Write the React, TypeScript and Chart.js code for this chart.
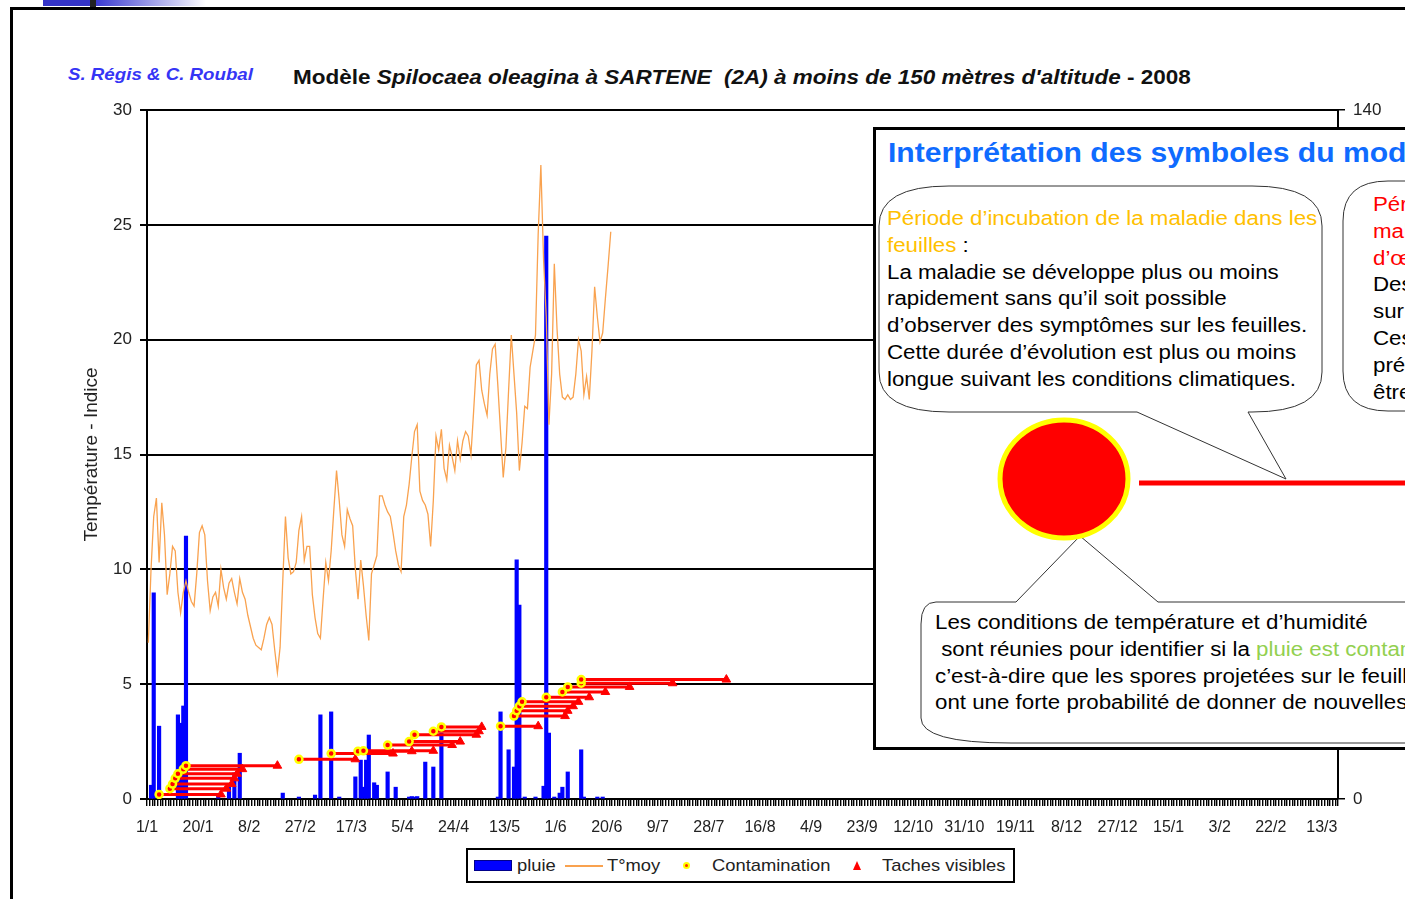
import React, { useEffect, useRef } from 'react';
import { Chart, registerables } from 'chart.js';

Chart.register(...registerables);

const FONT = "'Liberation Sans', Arial, sans-serif";

// ---- data ----
const N_DAYS = 443;
const TICK_EVERY = 19;
const tickLabels = ['1/1', '20/1', '8/2', '27/2', '17/3', '5/4', '24/4', '13/5', '1/6', '20/6', '9/7', '28/7', '16/8', '4/9', '23/9', '12/10', '31/10', '19/11', '8/12', '27/12', '15/1', '3/2', '22/2', '13/3'];

// mean temperature, one value per day from 1/1
const tmoy = [
  6.8, 10.0, 12.3, 13.1, 10.3, 12.9, 11.5, 8.9, 9.8, 11.0,
  10.8, 9.0, 8.1, 9.0, 9.5, 9.0, 8.6, 8.4, 9.8, 11.6,
  11.9, 11.5, 9.5, 8.2, 8.8, 9.0, 8.4, 10.0, 9.2, 8.7,
  9.4, 9.6, 9.0, 8.5, 9.6, 9.0, 8.7, 8.0, 7.5, 7.0,
  6.7, 6.6, 6.5, 7.0, 7.6, 7.9, 7.6, 6.5, 5.5, 6.6,
  9.5, 12.3, 10.5, 9.8, 9.9, 10.3, 11.7, 12.3, 10.4, 11.0,
  11.0, 8.9, 7.9, 7.2, 7.0, 8.7, 10.3, 9.5, 10.8, 12.6,
  14.3, 13.0, 11.5, 11.0, 12.6, 12.2, 11.9, 10.0, 8.7, 10.4,
  9.3, 8.0, 6.9, 9.8, 10.2, 10.6, 13.2, 13.2, 12.8, 12.5,
  12.3, 11.6, 10.8, 10.2, 9.9, 12.3, 12.8, 13.7, 14.9, 16.0,
  16.3, 13.4, 13.0, 12.8, 12.4, 11.0, 13.0, 15.8, 15.2, 16.1,
  14.4, 13.9, 15.4, 14.9, 14.3, 15.6, 14.8, 15.6, 16.0, 15.8,
  15.0, 16.9, 18.9, 19.1, 17.8, 17.2, 16.7, 18.5, 19.6, 19.8,
  18.0, 16.0, 14.0, 15.3, 17.8, 20.2, 18.5, 16.8, 14.3, 15.5,
  17.1, 17.0, 18.8, 19.5, 20.2, 24.6, 27.6, 23.5, 21.0, 16.3,
  18.5, 23.3, 20.5, 18.5, 17.5, 17.4, 17.6, 17.4, 17.5, 18.5,
  20.0, 19.5, 17.6, 18.4, 17.4, 19.5, 22.3, 21.0, 19.9, 20.3,
  21.8, 23.2, 24.7,
];

// rain (mm, right axis): day index and amount
const rainDay = [1, 2, 4, 11, 12, 13, 14, 26, 30, 32, 34, 50, 56, 62, 64, 68, 71, 77, 79, 80, 81, 82, 84, 85, 89, 92, 97, 98, 99, 100, 103, 106, 109, 130, 131, 134, 136, 137, 138, 140, 144, 147, 148, 149, 151, 153, 154, 156, 161, 162, 167, 169];
const rainMm = [2.8, 41.9, 14.8, 17.1, 15.4, 18.9, 53.4, 0.8, 2.4, 5.3, 9.3, 1.2, 0.4, 0.8, 17.1, 17.7, 0.4, 4.5, 7.9, 2.4, 7.9, 13.0, 3.3, 2.8, 5.5, 2.4, 0.4, 0.5, 0.4, 0.5, 7.5, 6.5, 13.4, 0.4, 17.7, 10.0, 6.5, 48.6, 39.4, 0.4, 0.4, 2.6, 114.4, 13.4, 0.4, 1.2, 2.4, 5.5, 10.0, 0.4, 0.4, 0.4];

// contamination events: start day (contamination), end day (visible spots), index level
const contamStart = [4, 8, 9, 10, 11, 13, 14, 56, 68, 78, 80, 89, 97, 99, 106, 109, 131, 136, 137, 138, 139, 148, 154, 156, 161, 161];
const contamEnd = [27, 29, 31, 32, 33, 35, 48, 77, 91, 98, 106, 113, 116, 122, 123, 124, 145, 155, 156, 158, 160, 164, 170, 179, 195, 215];
const contamLevel = [0.2, 0.45, 0.65, 0.9, 1.1, 1.3, 1.45, 1.73, 1.98, 2.08, 2.1, 2.35, 2.5, 2.8, 2.95, 3.14, 3.17, 3.61, 3.84, 4.04, 4.23, 4.43, 4.66, 4.88, 5.04, 5.2];

export default function App() {
  const canvasRef = useRef<HTMLCanvasElement | null>(null);

  useEffect(() => {
    const tPts = tmoy.map((v, i) => ({ x: i + 0.5, y: v }));
    const rainPts = rainDay.map((d, i) => ({ x: d + 0.5, y: rainMm[i] }));
    const cPts: { x: number; y: number | null }[] = [];
    contamStart.forEach((s, i) => {
      cPts.push({ x: s + 0.5, y: contamLevel[i] });
      cPts.push({ x: contamEnd[i] + 0.5, y: contamLevel[i] });
      cPts.push({ x: contamEnd[i] + 0.5, y: null });
    });

    const chart = new Chart(canvasRef.current as HTMLCanvasElement, {
      type: 'bar',
      data: {
        datasets: [
          {
            type: 'line',
            label: 'Contamination',
            data: cPts as any,
            yAxisID: 'y',
            borderColor: '#ff0000',
            borderWidth: 3,
            spanGaps: false,
            pointStyle: (c: any) => (c.dataIndex % 3 === 0 ? 'circle' : 'triangle'),
            pointRadius: (c: any) => [3.5, 5, 0][c.dataIndex % 3],
            pointBackgroundColor: '#ff0000',
            pointBorderColor: (c: any) => (c.dataIndex % 3 === 0 ? '#ffff00' : '#ff0000'),
            pointBorderWidth: (c: any) => (c.dataIndex % 3 === 0 ? 2.5 : 1),
            order: 0,
          } as any,
          {
            type: 'line',
            label: 'T°moy',
            data: tPts,
            yAxisID: 'y',
            borderColor: '#f9a24f',
            borderWidth: 1.3,
            pointRadius: 0,
            tension: 0,
            order: 1,
          } as any,
          {
            type: 'bar',
            label: 'pluie',
            data: rainPts,
            yAxisID: 'y2',
            backgroundColor: '#0000ff',
            barThickness: 3.5,
            order: 2,
          } as any,
        ],
      },
      options: {
        animation: false,
        responsive: false,
        devicePixelRatio: 1,
        layout: { padding: { top: 110, left: 0, right: 0, bottom: 0 } },
        plugins: { legend: { display: false }, tooltip: { enabled: false }, title: { display: false } },
        scales: {
          x: {
            type: 'linear',
            min: 0,
            max: N_DAYS,
            offset: false,
            ticks: {
              stepSize: 1,
              autoSkip: false,
              maxRotation: 0,
              minRotation: 0,
              padding: 12,
              color: '#222',
              font: { family: FONT, size: 16 },
              callback: (value: any) => {
                const v = Math.round(value);
                if (Math.abs(value - v) > 1e-6) return '';
                if (v % TICK_EVERY === 0 && v / TICK_EVERY < tickLabels.length) return tickLabels[v / TICK_EVERY];
                return '';
              },
            },
            grid: { drawOnChartArea: false, drawTicks: true, tickLength: 7, color: '#000', lineWidth: 1.4, offset: false },
            border: { color: '#000', width: 2 },
            afterFit: (s: any) => { s.height = 100; },
          },
          y: {
            type: 'linear',
            position: 'left',
            min: 0,
            max: 30,
            ticks: { stepSize: 5, padding: 8, color: '#222', font: { family: FONT, size: 17 } },
            grid: { color: '#000', lineWidth: 2, tickLength: 7 },
            border: { color: '#000', width: 2 },
            title: {
              display: true,
              text: 'Température - Indice',
              color: '#222',
              font: { family: FONT, size: 19 },
              padding: { top: 80, bottom: 0 },
            },
            afterFit: (s: any) => { s.width = 147; },
          },
          y2: {
            type: 'linear',
            position: 'right',
            min: 0,
            max: 140,
            ticks: { stepSize: 20, padding: 8, color: '#222', font: { family: FONT, size: 17 } },
            grid: { drawOnChartArea: false, color: '#000', lineWidth: 1.5, tickLength: 7 },
            border: { color: '#000', width: 2 },
            afterFit: (s: any) => { s.width = 67; },
          },
        },
      } as any,
    });
    return () => chart.destroy();
  }, []);

  const abs = (o: React.CSSProperties): React.CSSProperties => ({ position: 'absolute', ...o });
  const stretch = (k: number): React.CSSProperties => ({ transform: `scaleX(${k})`, transformOrigin: 'left top' });
  const txt20: React.CSSProperties = { fontSize: 20, lineHeight: '26.8px', whiteSpace: 'pre', color: '#000', ...stretch(1.115) };
  const leg: React.CSSProperties = { fontSize: 17, lineHeight: '20px', color: '#222', whiteSpace: 'pre', ...stretch(1.08) };
  const gold = '#ffc000';

  return (
    <div style={{ position: 'fixed', left: 0, top: 0, width: 1405, height: 899, overflow: 'hidden', background: '#fff', fontFamily: FONT }}>
      {/* slide decoration */}
      <div style={abs({ left: 43, top: 0, width: 48, height: 6, background: '#3434c8' })} />
      <div style={abs({ left: 96, top: 0, width: 110, height: 6, background: 'linear-gradient(to right, #3a3ad0, #ffffff)' })} />
      <div style={abs({ left: 90, top: 0, width: 6, height: 7, background: '#222' })} />
      <div style={abs({ left: 10, top: 7, width: 1500, height: 1000, border: '3px solid #000', boxSizing: 'border-box' })} />

      <div style={abs({ left: 68, top: 64, fontSize: 17, lineHeight: '22px', fontWeight: 'bold', fontStyle: 'italic', color: '#3535f5', whiteSpace: 'pre', ...stretch(1.1) })}>
        S. Régis &amp; C. Roubal
      </div>
      <div style={abs({ left: 293, top: 65, fontSize: 20, lineHeight: '24px', fontWeight: 'bold', color: '#111', whiteSpace: 'pre', ...stretch(1.125) })}>
        Modèle <i>Spilocaea oleagina à SARTENE  (2A) à moins de 150 mètres d'altitude</i> - 2008
      </div>

      <canvas ref={canvasRef} width={1405} height={899} style={abs({ left: 0, top: 0, width: 1405, height: 899 })} />

      {/* legend */}
      <div style={abs({ left: 466, top: 848, width: 549, height: 35, border: '2px solid #000', boxSizing: 'border-box', background: '#fff' })} />
      <div style={abs({ left: 474, top: 860, width: 38, height: 11, background: '#0000ff', boxSizing: 'border-box', border: '1px solid #00008a' })} />
      <div style={abs({ left: 517, top: 856, ...leg })}>pluie</div>
      <div style={abs({ left: 565, top: 865, width: 38, height: 2, background: '#f9a24f' })} />
      <div style={abs({ left: 607, top: 856, ...leg })}>T°moy</div>
      <div style={abs({ left: 683, top: 862, width: 7, height: 7, borderRadius: '50%', background: '#ffff00' })} />
      <div style={abs({ left: 685, top: 864, width: 3, height: 3, borderRadius: '50%', background: '#ff3000' })} />
      <div style={abs({ left: 712, top: 856, ...leg })}>Contamination</div>
      <div style={abs({ left: 853, top: 861, width: 0, height: 0, borderLeft: '4.5px solid transparent', borderRight: '4.5px solid transparent', borderBottom: '9px solid #ff0000' })} />
      <div style={abs({ left: 882, top: 856, ...leg })}>Taches visibles</div>

      {/* overlay box */}
      <div style={abs({ left: 873, top: 127, width: 700, height: 623, border: '3px solid #000', boxSizing: 'border-box', background: '#fff' })} />
      <svg width={1405} height={899} style={abs({ left: 0, top: 0 })}>
        <path
          d="M 949 186 H 1252 Q 1322 186 1322 226 V 372 Q 1322 412 1252 412 H 1248 L 1286 479 L 1137 412 H 949 Q 879 412 879 372 V 226 Q 879 186 949 186 Z"
          fill="#fff" stroke="#333" strokeWidth={1}
        />
        <path d="M 1500 181 H 1388 Q 1343 181 1343 221 V 371 Q 1343 411 1388 411 H 1500" fill="#fff" stroke="#333" strokeWidth={1} />
        <path
          d="M 1500 602 H 1158 L 1080 536 L 1016 602 H 936 Q 921 602 921 624 V 718 Q 921 743 1011 743 H 1500"
          fill="#fff" stroke="#333" strokeWidth={1}
        />
        <ellipse cx={1064} cy={479} rx={64} ry={59} fill="#ff0000" stroke="#ffff00" strokeWidth={5} />
        <line x1={1139} y1={483} x2={1410} y2={483} stroke="#ff0000" strokeWidth={5} />
      </svg>
      <div style={abs({ left: 888, top: 139, fontSize: 28, lineHeight: '28px', fontWeight: 'bold', color: '#0f6bff', whiteSpace: 'pre', ...stretch(1.075) })}>
        Interprétation des symboles du modèle
      </div>
      <div style={abs({ left: 887, top: 205, ...txt20 })}>
        <span style={{ color: gold }}>Période d’incubation de la maladie dans les</span>{'\n'}
        <span style={{ color: gold }}>feuilles</span>{' :\n'}
        {'La maladie se développe plus ou moins\nrapidement sans qu’il soit possible\nd’observer des symptômes sur les feuilles.\nCette durée d’évolution est plus ou moins\nlongue suivant les conditions climatiques.'}
      </div>
      <div style={abs({ left: 1373, top: 191, ...txt20 })}>
        <span style={{ color: '#ff0000' }}>{'Période de sortie des taches de la\nmaladie : taches visibles à l’aide\nd’œil nu :'}</span>{'\n'}
        {'Des taches apparaissent\nsur les feuilles.\nCes symptômes peuvent\nprécéder la chute des feuilles et\nêtre une source d’inoculum.'}
      </div>
      <div style={abs({ left: 935, top: 609, ...txt20 })}>
        {'Les conditions de température et d’humidité\n sont réunies pour identifier si la '}
        <span style={{ color: '#92d050' }}>pluie est contaminante,</span>
        {'\nc’est-à-dire que les spores projetées sur le feuillage\nont une forte probabilité de donner de nouvelles taches.'}
      </div>
    </div>
  );
}
